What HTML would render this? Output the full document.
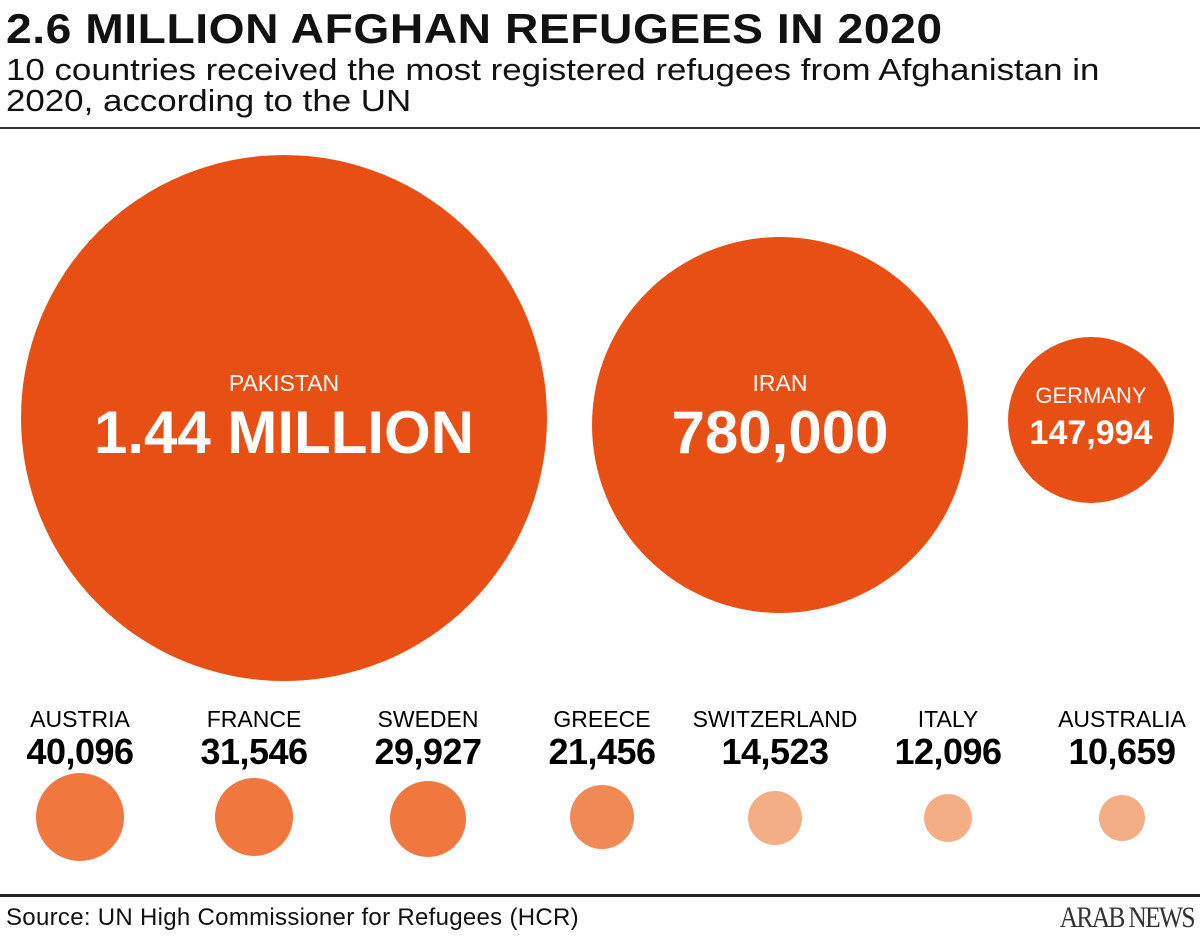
<!DOCTYPE html>
<html><head><style>
body{margin:0;width:1200px;height:944px;background:#fff;font-family:"Liberation Sans",sans-serif;position:relative;overflow:hidden}
.a{position:absolute}
.c{position:absolute;border-radius:50%}
.big{background:#E84F14}
.t{position:absolute;text-align:center;width:300px;color:#000}
.n{font-weight:bold;font-size:36px;letter-spacing:-0.5px}
.l{font-size:23px}
</style></head><body>
<div class="a" style="left:6px;top:5px;font-size:42px;font-weight:bold;letter-spacing:0.5px;color:#111;transform:scaleX(1.10);transform-origin:left">2.6 MILLION AFGHAN REFUGEES IN 2020</div>
<div class="a" style="left:6px;top:54px;font-size:31px;line-height:31px;color:#111;width:1190px;white-space:nowrap;transform:scaleX(1.125);transform-origin:left">10 countries received the most registered refugees from Afghanistan in<br>2020, according to the UN</div>
<div class="a" style="left:0;top:127px;width:1200px;height:2px;background:#333"></div>

<div class="c big" style="left:21px;top:155px;width:526px;height:526px"></div>
<div class="t" style="left:134px;top:370px;color:#fff;font-size:23px">PAKISTAN</div>
<div class="t" style="left:74px;top:398px;width:420px;color:#fff;font-size:60px;font-weight:bold;letter-spacing:0px">1.44 MILLION</div>

<div class="c big" style="left:592px;top:237px;width:376px;height:376px"></div>
<div class="t" style="left:630px;top:370px;color:#fff;font-size:23px">IRAN</div>
<div class="t" style="left:630px;top:398px;color:#fff;font-size:60px;font-weight:bold;letter-spacing:0px">780,000</div>

<div class="c big" style="left:1008px;top:337px;width:166px;height:166px"></div>
<div class="t" style="left:941px;top:383px;color:#fff;font-size:22px">GERMANY</div>
<div class="t" style="left:941px;top:414px;color:#fff;font-size:34px;font-weight:bold;letter-spacing:0px">147,994</div>

<div class="t l" style="left:-70px;top:706px">AUSTRIA</div><div class="t n" style="left:-70px;top:731px">40,096</div>
<div class="c" style="left:36px;top:773px;width:88px;height:88px;background:#F0783E"></div>
<div class="t l" style="left:104px;top:706px">FRANCE</div><div class="t n" style="left:104px;top:731px">31,546</div>
<div class="c" style="left:215px;top:778px;width:78px;height:78px;background:#F0783E"></div>
<div class="t l" style="left:278px;top:706px">SWEDEN</div><div class="t n" style="left:278px;top:731px">29,927</div>
<div class="c" style="left:390px;top:781px;width:76px;height:76px;background:#F0783E"></div>
<div class="t l" style="left:452px;top:706px">GREECE</div><div class="t n" style="left:452px;top:731px">21,456</div>
<div class="c" style="left:570px;top:785px;width:64px;height:64px;background:#F08A55"></div>
<div class="t l" style="left:625px;top:706px">SWITZERLAND</div><div class="t n" style="left:625px;top:731px">14,523</div>
<div class="c" style="left:748px;top:791px;width:54px;height:54px;background:#F4AE86"></div>
<div class="t l" style="left:798px;top:706px">ITALY</div><div class="t n" style="left:798px;top:731px">12,096</div>
<div class="c" style="left:924px;top:794px;width:48px;height:48px;background:#F4AE86"></div>
<div class="t l" style="left:972px;top:706px">AUSTRALIA</div><div class="t n" style="left:972px;top:731px">10,659</div>
<div class="c" style="left:1099px;top:795px;width:46px;height:46px;background:#F4AE86"></div>

<div class="a" style="left:0;top:894px;width:1200px;height:3px;background:#222"></div>
<div class="a" style="left:6px;top:904px;font-size:24px;color:#111;letter-spacing:0.3px">Source: UN High Commissioner for Refugees (HCR)</div>
<div class="a" style="right:6px;top:901px;font-family:'Liberation Serif',serif;font-size:30px;color:#333;letter-spacing:-2px;transform:scaleX(0.85);transform-origin:right">ARAB NEWS</div>
</body></html>
